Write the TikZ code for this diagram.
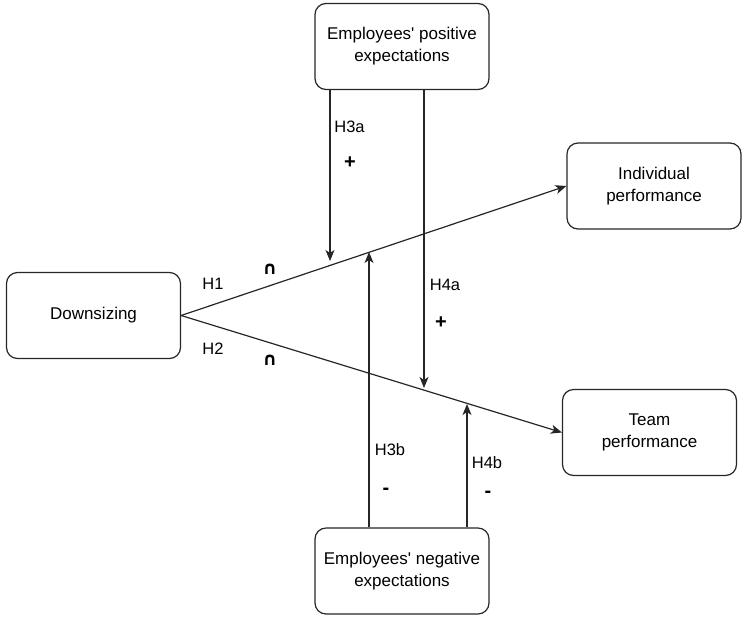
\documentclass[tikz,border=0pt]{standalone}
\usepackage{fontspec}
\setmainfont{Liberation Sans}
\newfontfamily\plainfont{Liberation Sans}
\newfontfamily\symfont{DejaVu Sans}
\newcommand{\apos}{{\plainfont\symbol{39}}}
\usetikzlibrary{arrows.meta}
\begin{document}
\begin{tikzpicture}[x=1pt,y=-1pt,
  box/.style={draw=black!85, line width=1.2pt, rounded corners=11pt, align=center,
    minimum width=174pt, minimum height=86pt, inner sep=0pt,
    font=\fontsize{17}{22}\selectfont},
  lbl/.style={font=\fontsize{16.5}{19}\selectfont, inner sep=0pt},
  sgn/.style={font=\fontsize{20}{22}\selectfont\bfseries, inner sep=0pt},
  capsym/.style={font=\fontsize{18}{20}\selectfont\symfont\bfseries, inner sep=0pt},
  conn/.style={draw=black!85, line width=1.2pt, -{Stealth[length=11pt,width=9pt,inset=3pt]}}
]
\useasboundingbox (0,0) rectangle (743,616);

\node[box] (down) at (93.5,315.5) {Downsizing};
\node[box] (pos) at (402,46.5) {Employees\apos\ positive\\expectations};
\node[box] (ind) at (654,186) {Individual\\performance};
\node[box] (team) at (649.5,432.5) {Team\\performance};
\node[box] (neg) at (402,571) {Employees\apos\ negative\\expectations};

\draw[conn] (down.east) -- (ind.west);
\draw[conn] (down.east) -- (team.west);

\coordinate (t3a) at (330,261);
\coordinate (t4a) at (424,388);
\coordinate (t3b) at (369,252);
\coordinate (t4b) at (467,404);

\draw[conn] (pos.south -| t3a) -- (t3a);
\draw[conn] (pos.south -| t4a) -- (t4a);
\draw[conn] (neg.north -| t3b) -- (t3b);
\draw[conn] (neg.north -| t4b) -- (t4b);

\node[lbl] (h1) at (213,284) {H1};
\node[lbl] (h2) at (213,349) {H2};
\node[capsym] (c1) at (270,269) {∩};
\node[capsym] (c2) at (270,360) {∩};
\node[lbl] (h3a) at (349.5,126.5) {H3a};
\node[sgn] (p3a) at (350,163) {+};
\node[lbl] (h4a) at (445,285) {H4a};
\node[sgn] (p4a) at (441,323) {+};
\node[lbl] (h3b) at (390,450) {H3b};
\node[sgn] (m3b) at (386,491) {-};
\node[lbl] (h4b) at (487,463) {H4b};
\node[sgn] (m4b) at (488,494) {-};
\end{tikzpicture}
\end{document}
